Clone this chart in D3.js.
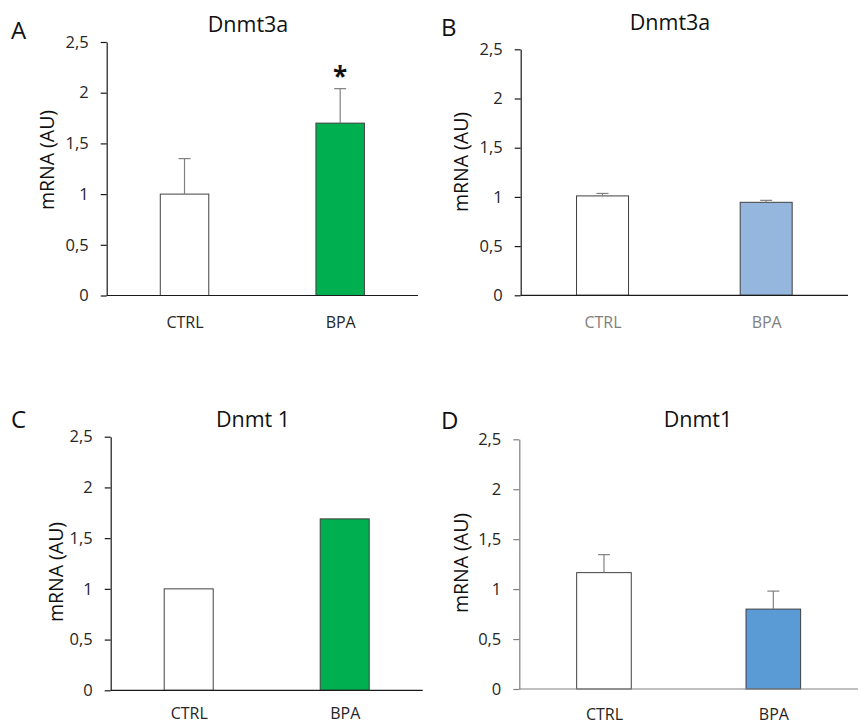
<!DOCTYPE html>
<html>
<head>
<meta charset="utf-8">
<script src="https://cdn.jsdelivr.net/npm/d3@7"></script>
<style>
  html, body { margin: 0; padding: 0; background: #ffffff; }
  svg { display: block; font-family: "Open Sans", "DejaVu Sans", sans-serif; }
</style>
</head>
<body>
<svg id="chart" width="858" height="724"></svg>
<script>
// Groups and measured expression levels (relative mRNA, arbitrary units)
const groups = ["CTRL", "BPA"];

const dnmt3aA = [1.00, 1.70];
const dnmt3aAErr = [0.35, 0.34];

const dnmt3aB = [1.01, 0.945];
const dnmt3aBErr = [0.025, 0.02];

const dnmt1C = [1.00, 1.69];

const dnmt1D = [1.165, 0.80];
const dnmt1DErr = [0.18, 0.18];

const yTickValues = [0, 0.5, 1, 1.5, 2, 2.5];
const yMax = 2.5;

// Panel layout: plot frame, label anchors and styling
const panels = [
  { letter: "A", title: "Dnmt3a", values: dnmt3aA, errors: dnmt3aAErr, star: [false, true],
    fills: ["#ffffff", "#00b050"], x0: 106.7, x1: 418, yBottom: 295.5, yTop: 42, barW: 48.5,
    letterPos: [11, 39.3], titlePos: [248, 32.3], yLabelPos: [47, 160], xLabelY: 328,
    axisColor: "#1a1a1a", xLabelColor: "#262626" },
  { letter: "B", title: "Dnmt3a", values: dnmt3aB, errors: dnmt3aBErr, star: [false, false],
    fills: ["#ffffff", "#95b7de"], x0: 520.7, x1: 848, yBottom: 295.3, yTop: 49.3, barW: 52,
    letterPos: [441, 36], titlePos: [670, 30], yLabelPos: [461.5, 162], xLabelY: 328,
    axisColor: "#1a1a1a", xLabelColor: "#7f7f7f" },
  { letter: "C", title: "Dnmt 1", values: dnmt1C, errors: null, star: [false, false],
    fills: ["#ffffff", "#00b050"], x0: 110.7, x1: 422.7, yBottom: 690.3, yTop: 436.7, barW: 49,
    letterPos: [11, 428], titlePos: [253, 427], yLabelPos: [56, 572], xLabelY: 719.5,
    axisColor: "#1a1a1a", xLabelColor: "#262626" },
  { letter: "D", title: "Dnmt1", values: dnmt1D, errors: dnmt1DErr, star: [false, false],
    fills: ["#ffffff", "#5b9bd5"], x0: 519.3, x1: 858, yBottom: 689, yTop: 439.3, barW: 54.6,
    letterPos: [441, 428.5], titlePos: [698, 427], yLabelPos: [461, 563], xLabelY: 719.5,
    axisColor: "#808080", xLabelColor: "#262626" }
];

const svg = d3.select("#chart");
const fmt = d => String(d).replace(".", ",");

panels.forEach(p => {
  const g = svg.append("g");

  const x = d3.scalePoint().domain(groups).range([p.x0, p.x1]).padding(0.5);
  const y = d3.scaleLinear().domain([0, yMax]).range([p.yBottom, p.yTop]);

  // Y axis with comma decimal labels
  const yAxis = d3.axisLeft(y).tickValues(yTickValues).tickFormat(fmt)
    .tickSize(6).tickSizeOuter(0).tickPadding(12);
  const ya = g.append("g").attr("transform", `translate(${p.x0},0)`).call(yAxis);
  ya.select(".domain").attr("stroke", p.axisColor).attr("stroke-width", 1.2);
  ya.selectAll(".tick line").attr("stroke", p.axisColor).attr("stroke-width", 1.2);
  ya.selectAll(".tick text").attr("fill", "#262626").style("font-size", "16.5px")
    .style("font-family", "'Open Sans', sans-serif");

  // Bars
  g.selectAll("rect.bar").data(p.values).join("rect")
    .attr("class", "bar")
    .attr("x", (d, i) => x(groups[i]) - p.barW / 2)
    .attr("width", p.barW)
    .attr("y", d => y(d))
    .attr("height", d => y(0) - y(d))
    .attr("fill", (d, i) => p.fills[i])
    .attr("stroke", "#404040")
    .attr("stroke-width", 1);

  // Upper error bars
  if (p.errors) {
    p.values.forEach((v, i) => {
      const cx = x(groups[i]);
      const top = y(v + p.errors[i]);
      g.append("line").attr("x1", cx).attr("x2", cx).attr("y1", y(v)).attr("y2", top)
        .attr("stroke", "#808080").attr("stroke-width", 1.2);
      g.append("line").attr("x1", cx - 6).attr("x2", cx + 6).attr("y1", top).attr("y2", top)
        .attr("stroke", "#808080").attr("stroke-width", 1.2);
      if (p.star[i]) {
        g.append("text").attr("x", cx).attr("y", top - 3)
          .attr("text-anchor", "middle").attr("fill", "#111")
          .style("font-size", "26px").style("font-weight", "bold").text("*");
      }
    });
  }

  // X axis baseline and category labels
  const xAxis = d3.axisBottom(x).tickSize(0).tickPadding(21);
  const xa = g.append("g").attr("transform", `translate(0,${p.yBottom})`).call(xAxis);
  xa.select(".domain").attr("d", `M${p.x0},0H${p.x1}`)
    .attr("stroke", p.axisColor).attr("stroke-width", 1.2);
  xa.selectAll(".tick text").attr("fill", p.xLabelColor).attr("dy", null)
    .attr("y", p.xLabelY - p.yBottom)
    .style("font-size", "16px").style("font-family", "'Open Sans', sans-serif");

  // Y axis title
  g.append("text")
    .attr("transform", `translate(${p.yLabelPos[0]},${p.yLabelPos[1]}) rotate(-90)`)
    .attr("text-anchor", "middle").attr("dy", "0.35em")
    .attr("fill", "#111").style("font-size", "19.5px").text("mRNA (AU)");

  // Chart title and panel letter
  g.append("text").attr("x", p.titlePos[0]).attr("y", p.titlePos[1])
    .attr("text-anchor", "middle").attr("fill", "#111")
    .style("font-size", "21.5px").text(p.title);
  g.append("text").attr("x", p.letterPos[0]).attr("y", p.letterPos[1])
    .attr("fill", "#111").style("font-size", "24px").text(p.letter);
});
</script>
</body>
</html>
